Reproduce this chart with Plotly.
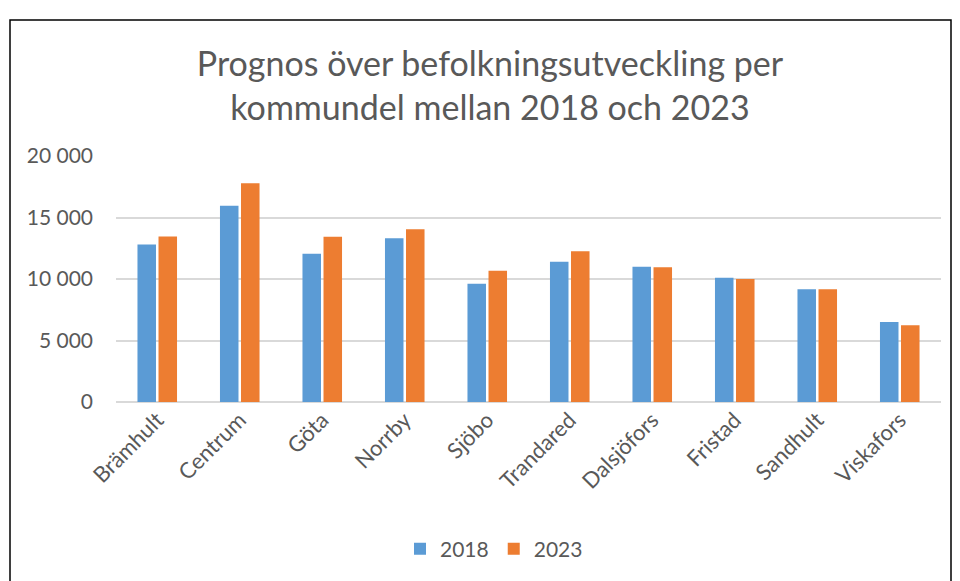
import plotly.graph_objects as go

categories = ["Brämhult", "Centrum", "Göta", "Norrby", "Sjöbo", "Trandared",
              "Dalsjöfors", "Fristad", "Sandhult", "Viskafors"]
values_2018 = [12800, 15960, 12060, 13310, 9620, 11410, 11000, 10110, 9160, 6500]
values_2023 = [13450, 17780, 13440, 14040, 10680, 12250, 10950, 10000, 9160, 6230]
y_tickvals = [0, 5000, 10000, 15000, 20000]
y_ticktext = ["0", "5 000", "10 000", "15 000", "20 000"]

FONT = "Lato"
GREY = "#595959"

fig = go.Figure()
fig.add_trace(go.Bar(name="2018", x=categories, y=values_2018, marker_color="#5B9BD5",
                     marker_line_width=0))
fig.add_trace(go.Bar(name="2023", x=categories, y=values_2023, marker_color="#ED7D31",
                     marker_line_width=0))

W, H = 960, 581
ml, mr, mt, mb = 116, 19, 156, 179
pw, ph = W - ml - mr, H - mt - mb

def px_x(x):
    return (x - ml) / pw

def px_y(y):
    return (H - mb - y) / ph

fig.update_layout(
    width=W, height=H,
    margin=dict(l=ml, r=mr, t=mt, b=mb, pad=0),
    paper_bgcolor="white", plot_bgcolor="white",
    barmode="group", bargap=0.49, bargroupgap=0.12,
    font=dict(family=FONT, color=GREY),
    title=dict(text="Prognos över befolkningsutveckling per<br>kommundel mellan 2018 och 2023",
               x=px_x(490), xref="paper", xanchor="center",
               y=1 - 76 / H, yref="container", yanchor="middle",
               font=dict(family=FONT, size=34, color=GREY)),
    showlegend=True,
    legend=dict(orientation="h", x=px_x(494), xanchor="center", y=px_y(549), yanchor="middle",
                font=dict(family=FONT, size=21, color=GREY), itemwidth=30,
                traceorder="normal"),
    xaxis=dict(showgrid=False, showline=False, ticks="", tickangle=-45,
               tickfont=dict(family=FONT, size=22, color=GREY), fixedrange=True),
    yaxis=dict(range=[0, 20000], tickvals=y_tickvals, ticktext=y_ticktext,
               showgrid=True, gridcolor="#D9D9D9", gridwidth=1.5,
               zeroline=True, zerolinecolor="#D9D9D9", zerolinewidth=1.5,
               showline=False, ticks="", ticklabelstandoff=22,
               tickfont=dict(family=FONT, size=21, color=GREY)),
    shapes=[dict(type="rect", xref="paper", yref="paper",
                 x0=px_x(10), x1=px_x(951), y0=px_y(600), y1=px_y(20),
                 line=dict(color="#000000", width=1.5), layer="below")],
)

fig.write_html("out.html")
